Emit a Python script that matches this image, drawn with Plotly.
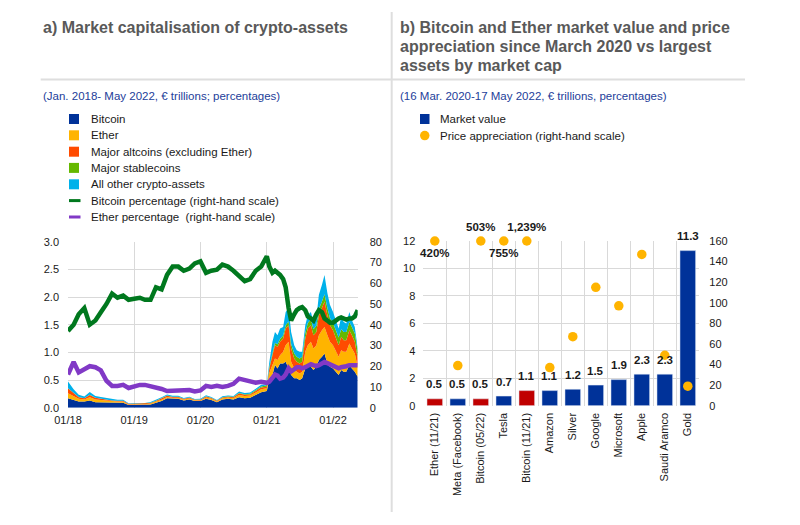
import plotly.graph_objects as go

# ---------------- Panel a) data ----------------
dates = [
    "2018-01-01", "2018-02-01", "2018-03-01", "2018-04-01", "2018-05-01", "2018-06-01",
    "2018-07-01", "2018-08-01", "2018-09-01", "2018-10-01", "2018-11-01", "2018-12-01",
    "2019-01-01", "2019-02-01", "2019-03-01", "2019-04-01", "2019-05-01", "2019-06-01",
    "2019-07-01", "2019-08-01", "2019-09-01", "2019-10-01", "2019-11-01", "2019-12-01",
    "2020-01-01", "2020-02-01", "2020-03-01", "2020-04-01", "2020-05-01", "2020-06-01",
    "2020-07-01", "2020-08-01", "2020-09-01", "2020-10-01", "2020-11-01", "2020-12-01",
    "2021-01-01", "2021-01-15", "2021-02-01", "2021-02-15", "2021-03-01", "2021-03-15",
    "2021-04-01", "2021-04-15", "2021-05-01", "2021-05-15", "2021-06-01", "2021-06-15",
    "2021-07-01", "2021-07-15", "2021-08-01", "2021-08-15", "2021-09-01", "2021-09-15",
    "2021-10-01", "2021-10-15", "2021-11-01", "2021-11-15", "2021-12-01", "2021-12-15",
    "2022-01-01", "2022-01-15", "2022-02-01", "2022-02-15", "2022-03-01", "2022-03-15",
    "2022-04-01", "2022-04-15", "2022-05-01", "2022-05-17",
]

bitcoin = [
    0.17, 0.14, 0.11, 0.11, 0.13, 0.10, 0.10, 0.10, 0.09, 0.09, 0.09, 0.05,
    0.05, 0.05, 0.05, 0.06, 0.09, 0.12, 0.17, 0.16, 0.16, 0.13, 0.15, 0.12,
    0.12, 0.16, 0.14, 0.10, 0.15, 0.16, 0.15, 0.19, 0.17, 0.18, 0.23, 0.28,
    0.30, 0.53, 0.59, 0.77, 0.71, 0.80, 0.80, 0.83, 0.71, 0.59, 0.53, 0.53,
    0.50, 0.53, 0.71, 0.74, 0.74, 0.68, 0.74, 0.86, 0.92, 0.98, 0.80, 0.74,
    0.71, 0.65, 0.59, 0.68, 0.65, 0.65, 0.77, 0.71, 0.65, 0.56,
]
ether = [
    0.09, 0.07, 0.05, 0.04, 0.06, 0.05, 0.04, 0.03, 0.02, 0.02, 0.02, 0.01,
    0.012, 0.01, 0.012, 0.014, 0.016, 0.024, 0.025, 0.02, 0.02, 0.017, 0.018, 0.013,
    0.012, 0.024, 0.02, 0.014, 0.02, 0.023, 0.022, 0.04, 0.04, 0.04, 0.045, 0.055,
    0.05, 0.10, 0.18, 0.12, 0.15, 0.15, 0.21, 0.30, 0.48, 0.24, 0.18, 0.12,
    0.12, 0.12, 0.30, 0.39, 0.45, 0.39, 0.39, 0.45, 0.48, 0.48, 0.51, 0.45,
    0.42, 0.39, 0.33, 0.36, 0.36, 0.36, 0.39, 0.36, 0.33, 0.18,
]
altcoins = [
    0.09, 0.05, 0.03, 0.02, 0.04, 0.03, 0.02, 0.02, 0.02, 0.015, 0.015, 0.01,
    0.01, 0.01, 0.012, 0.012, 0.015, 0.02, 0.02, 0.015, 0.015, 0.013, 0.013, 0.011,
    0.011, 0.017, 0.014, 0.01, 0.013, 0.014, 0.015, 0.025, 0.022, 0.02, 0.025, 0.03,
    0.03, 0.08, 0.18, 0.24, 0.24, 0.24, 0.24, 0.30, 0.30, 0.24, 0.18, 0.18,
    0.18, 0.18, 0.24, 0.30, 0.30, 0.24, 0.24, 0.36, 0.40, 0.46, 0.36, 0.30,
    0.27, 0.24, 0.21, 0.24, 0.21, 0.21, 0.24, 0.24, 0.21, 0.15,
]
stablecoins = [
    0.002, 0.002, 0.002, 0.002, 0.002, 0.002, 0.002, 0.002, 0.002, 0.002, 0.002, 0.002,
    0.002, 0.002, 0.002, 0.003, 0.003, 0.003, 0.004, 0.004, 0.004, 0.004, 0.004, 0.004,
    0.005, 0.005, 0.005, 0.006, 0.008, 0.009, 0.01, 0.012, 0.013, 0.014, 0.016, 0.018,
    0.025, 0.03, 0.035, 0.04, 0.045, 0.05, 0.055, 0.06, 0.07, 0.08, 0.09, 0.09,
    0.09, 0.09, 0.10, 0.10, 0.11, 0.11, 0.11, 0.12, 0.12, 0.13, 0.13, 0.13,
    0.13, 0.14, 0.14, 0.14, 0.15, 0.15, 0.15, 0.15, 0.15, 0.14,
]
other_crypto = [
    0.12, 0.07, 0.04, 0.03, 0.05, 0.03, 0.03, 0.02, 0.02, 0.015, 0.015, 0.01,
    0.01, 0.01, 0.01, 0.012, 0.016, 0.02, 0.02, 0.015, 0.015, 0.013, 0.014, 0.011,
    0.012, 0.02, 0.015, 0.011, 0.014, 0.015, 0.016, 0.025, 0.022, 0.02, 0.025, 0.03,
    0.02, 0.09, 0.205, 0.20, 0.165, 0.19, 0.155, 0.24, 0.24, 0.22, 0.15, 0.12,
    0.12, 0.09, 0.14, 0.14, 0.13, 0.13, 0.13, 0.25, 0.30, 0.35, 0.27, 0.24,
    0.20, 0.19, 0.16, 0.22, 0.18, 0.15, 0.18, 0.12, 0.12, 0.04,
]
bitcoin_pct = [
    37, 40, 45, 48, 40, 42, 46, 50, 55, 53, 54, 52,
    52.5, 53, 52, 52, 58, 57, 64, 68, 68, 66, 67, 69.5,
    70.5, 65, 66, 66.5, 69, 68, 66, 63.5, 61, 62, 66, 68,
    73, 68, 65, 66, 65, 64, 62, 58, 48, 42, 45, 47,
    48, 48.5, 47, 44, 43, 42, 45, 47, 46, 43, 42, 41,
    41, 42, 43, 43.5, 43, 42.5, 43, 43, 44, 47,
]
ether_pct = [
    16, 22, 17, 18.5, 20, 19.5, 18, 13, 10.5, 10.5, 11, 9.5,
    10.5, 11, 11, 10.5, 10, 9, 8, 8, 8.5, 8.5, 8.5, 7.8,
    8.3, 10.5, 10, 10.5, 10, 10.5, 11.5, 14, 13.5, 12.5, 12, 12.5,
    12, 12.5, 14, 16, 15.5, 14, 14.5, 16, 19, 17.5, 18.5, 19.5,
    19.5, 19, 19.5, 20, 21, 20.5, 20, 20.5, 21.5, 22, 21.5, 21,
    20.5, 20, 19, 19.5, 19.5, 20, 20.5, 20.5, 20.5, 20.5,
]

area_names = ["Bitcoin", "Ether", "Major altcoins (excluding Ether)",
              "Major stablecoins", "All other crypto-assets"]
line_names = ["Bitcoin percentage (right-hand scale)",
              "Ether percentage  (right-hand scale)"]
year_ticks = ["2018-01-01", "2019-01-01", "2020-01-01", "2021-01-01", "2022-01-01"]
year_labels = ["01/18", "01/19", "01/20", "01/21", "01/22"]

# ---------------- Panel b) data ----------------
assets = ["Ether (11/21)", "Meta (Facebook)", "Bitcoin (05/22)", "Tesla",
          "Bitcoin (11/21)", "Amazon", "Silver", "Google", "Microsoft",
          "Apple", "Saudi Aramco", "Gold"]
market_value = [0.5, 0.5, 0.5, 0.7, 1.1, 1.1, 1.2, 1.5, 1.9, 2.3, 2.3, 11.3]
price_appreciation = [420, 39, 503, 755, 1239, 37, 67, 115, 97, 147, 49, 19]
is_crypto = [True, False, True, False, True, False, False, False, False,
             False, False, False]
label_pos = ["bottom center", "top center", "top center", "bottom center",
             "top center", "top center", "top center", "top center",
             "top center", "top center", "top center", "top center"]
b_names = ["Market value", "Price appreciation (right-hand scale)"]
PCT_MAX = 160

# ---------------- styles ----------------
FONT = "Liberation Sans, Arial, sans-serif"
C_BTC = "#003299"
C_ETH = "#ffb400"
C_ALT = "#ff4b00"
C_STB = "#65b800"
C_OTH = "#00b1ea"
C_BTCP = "#00781e"
C_ETHP = "#8139c6"
C_RED = "#c00000"
GRID = "#d9d9d9"
TXT = "#1a1a1a"
TITLE = "#595959"
SUB = "#23409a"

W, H = 800, 525
OFF = 8  # the page body adds an 8px margin around the figure


def fx(p):
    return (p - OFF) / W


def fy(p):
    return 1 - (p - OFF) / H


fig = go.Figure()

area_series = [bitcoin, ether, altcoins, stablecoins, other_crypto]
area_colors = [C_BTC, C_ETH, C_ALT, C_STB, C_OTH]
for name, vals, col in zip(area_names, area_series, area_colors):
    fig.add_trace(go.Scatter(
        x=dates, y=vals, name=name, stackgroup="cap", mode="lines",
        line=dict(width=0, color=col), fillcolor=col,
        xaxis="x", yaxis="y", showlegend=False, hoverinfo="skip"))

for name, vals, col in zip(line_names, [bitcoin_pct, ether_pct], [C_BTCP, C_ETHP]):
    fig.add_trace(go.Scatter(
        x=dates, y=vals, name=name, mode="lines",
        line=dict(width=4.5, color=col), xaxis="x", yaxis="y2",
        showlegend=False))

bar_colors = [C_RED if c else C_BTC for c in is_crypto]
fig.add_trace(go.Bar(
    x=assets, y=market_value, name=b_names[0], marker_color=bar_colors,
    xaxis="x2", yaxis="y3", showlegend=False))

fig.add_trace(go.Scatter(
    x=assets, y=[min(v, PCT_MAX) for v in price_appreciation], name=b_names[1],
    mode="markers+text", marker=dict(size=9.5, color=C_ETH),
    text=[f"{v:,}%" if v > PCT_MAX else "" for v in price_appreciation],
    textposition=label_pos,
    textfont=dict(size=11.5, color=TXT, family=FONT, weight="bold"),
    cliponaxis=False, xaxis="x2", yaxis="y4", showlegend=False))

tickfont = dict(size=11, color=TXT, family=FONT)
LX = [68, 357.7]
LY = [241.7, 407.7]
RX = [423.3, 699.3]
RY = [241, 405.7]

fig.update_layout(
    width=W, height=H, margin=dict(l=0, r=0, t=0, b=0, pad=0),
    paper_bgcolor="white", plot_bgcolor="white",
    font=dict(family=FONT, color=TXT),
    bargap=0.32, showlegend=False,
    xaxis=dict(domain=[fx(LX[0]), fx(LX[1])], anchor="y", type="date",
               range=["2018-01-01", "2022-05-17"], tickvals=year_ticks,
               ticktext=year_labels, showgrid=True, gridcolor=GRID, gridwidth=1,
               ticks="", tickfont=tickfont, showline=False, zeroline=False,
               ticklabelstandoff=4, automargin=False),
    yaxis=dict(domain=[fy(LY[1]), fy(LY[0])], anchor="x", range=[0, 3], dtick=0.5,
               tickformat=".1f", showgrid=True, gridcolor=GRID, zeroline=False,
               ticks="", tickfont=tickfont, ticklabelstandoff=8, automargin=False),
    yaxis2=dict(overlaying="y", anchor="x", side="right", range=[0, 80], dtick=10,
                showgrid=False, zeroline=False, ticks="", tickfont=tickfont,
                ticklabelstandoff=11, automargin=False),
    xaxis2=dict(domain=[fx(RX[0]), fx(RX[1])], anchor="y3", type="category",
                range=[-0.5, len(assets) - 0.5],
                tickson="boundaries", showgrid=True, gridcolor=GRID, ticks="",
                tickangle=-90, tickfont=tickfont, showline=False, zeroline=False,
                ticklabelstandoff=4, automargin=False),
    yaxis3=dict(domain=[fy(RY[1]), fy(RY[0])], anchor="x2", range=[0, 12], dtick=2,
                showgrid=True, gridcolor=GRID, zeroline=False, ticks="",
                tickfont=tickfont, ticklabelstandoff=7, automargin=False),
    yaxis4=dict(overlaying="y3", anchor="x2", side="right", range=[0, PCT_MAX],
                dtick=20, showgrid=False, zeroline=False, ticks="",
                tickfont=tickfont, ticklabelstandoff=9, automargin=False),
)

shapes = []
annotations = []

# value labels above the bars (annotations sit above the dots)
for a, v in zip(assets, market_value):
    annotations.append(dict(
        x=a, y=v, xref="x2", yref="y3", showarrow=False, text=f"{v:.1f}",
        yanchor="middle", yshift=14.5,
        font=dict(size=11.5, color=TXT, family=FONT, weight="bold")))

# frame lines
shapes.append(dict(type="line", xref="paper", yref="paper",
                   x0=fx(391.7), x1=fx(391.7), y0=fy(12), y1=fy(512),
                   line=dict(color="#dedede", width=2)))
shapes.append(dict(type="line", xref="paper", yref="paper",
                   x0=fx(40.7), x1=fx(745), y0=fy(79.5), y1=fy(79.5),
                   line=dict(color="#dedede", width=2)))


def text(x, y, s, size, color, bold=False):
    annotations.append(dict(
        x=fx(x), y=fy(y), xref="paper", yref="paper", xanchor="left",
        yanchor="middle", showarrow=False, text=s,
        font=dict(size=size, color=color, family=FONT,
                  weight="bold" if bold else "normal")))


# titles
text(40.7, 28, "a) Market capitalisation of crypto-assets", 16, TITLE, True)
b_title = ["b) Bitcoin and Ether market value and price",
           "appreciation since March 2020 vs largest",
           "assets by market cap"]
for i, line in enumerate(b_title):
    text(398.3, 27.7 + 18.7 * i, line, 16, TITLE, True)

text(40.7, 96, "(Jan. 2018- May 2022, € trillions; percentages)", 11.5, SUB)
text(398.3, 96, "(16 Mar. 2020-17 May 2022, € trillions, percentages)", 11.5, SUB)

# legend panel a
rows = [119, 135.3, 151.7, 167.9, 184.3, 200.6, 217]
for name, col, y in zip(area_names, area_colors, rows[:5]):
    shapes.append(dict(type="rect", xref="paper", yref="paper",
                       x0=fx(69), x1=fx(79), y0=fy(y + 5), y1=fy(y - 5),
                       fillcolor=col, line=dict(width=0)))
    text(89.3, y, name, 11.5, TXT)
for name, col, y in zip(line_names, [C_BTCP, C_ETHP], rows[5:]):
    shapes.append(dict(type="line", xref="paper", yref="paper",
                       x0=fx(69), x1=fx(80.5), y0=fy(y), y1=fy(y),
                       line=dict(color=col, width=3)))
    text(89.3, y, name, 11.5, TXT)

# legend panel b
shapes.append(dict(type="rect", xref="paper", yref="paper",
                   x0=fx(420), x1=fx(429.5), y0=fy(124), y1=fy(114),
                   fillcolor=C_BTC, line=dict(width=0)))
text(438.3, 119, b_names[0], 11.5, TXT)
shapes.append(dict(type="circle", xref="paper", yref="paper",
                   x0=fx(420), x1=fx(429.5), y0=fy(140.3), y1=fy(130.8),
                   fillcolor=C_ETH, line=dict(width=0)))
text(438.3, 135.5, b_names[1], 11.5, TXT)

fig.update_layout(shapes=shapes, annotations=annotations)

fig.write_html("out.html")
